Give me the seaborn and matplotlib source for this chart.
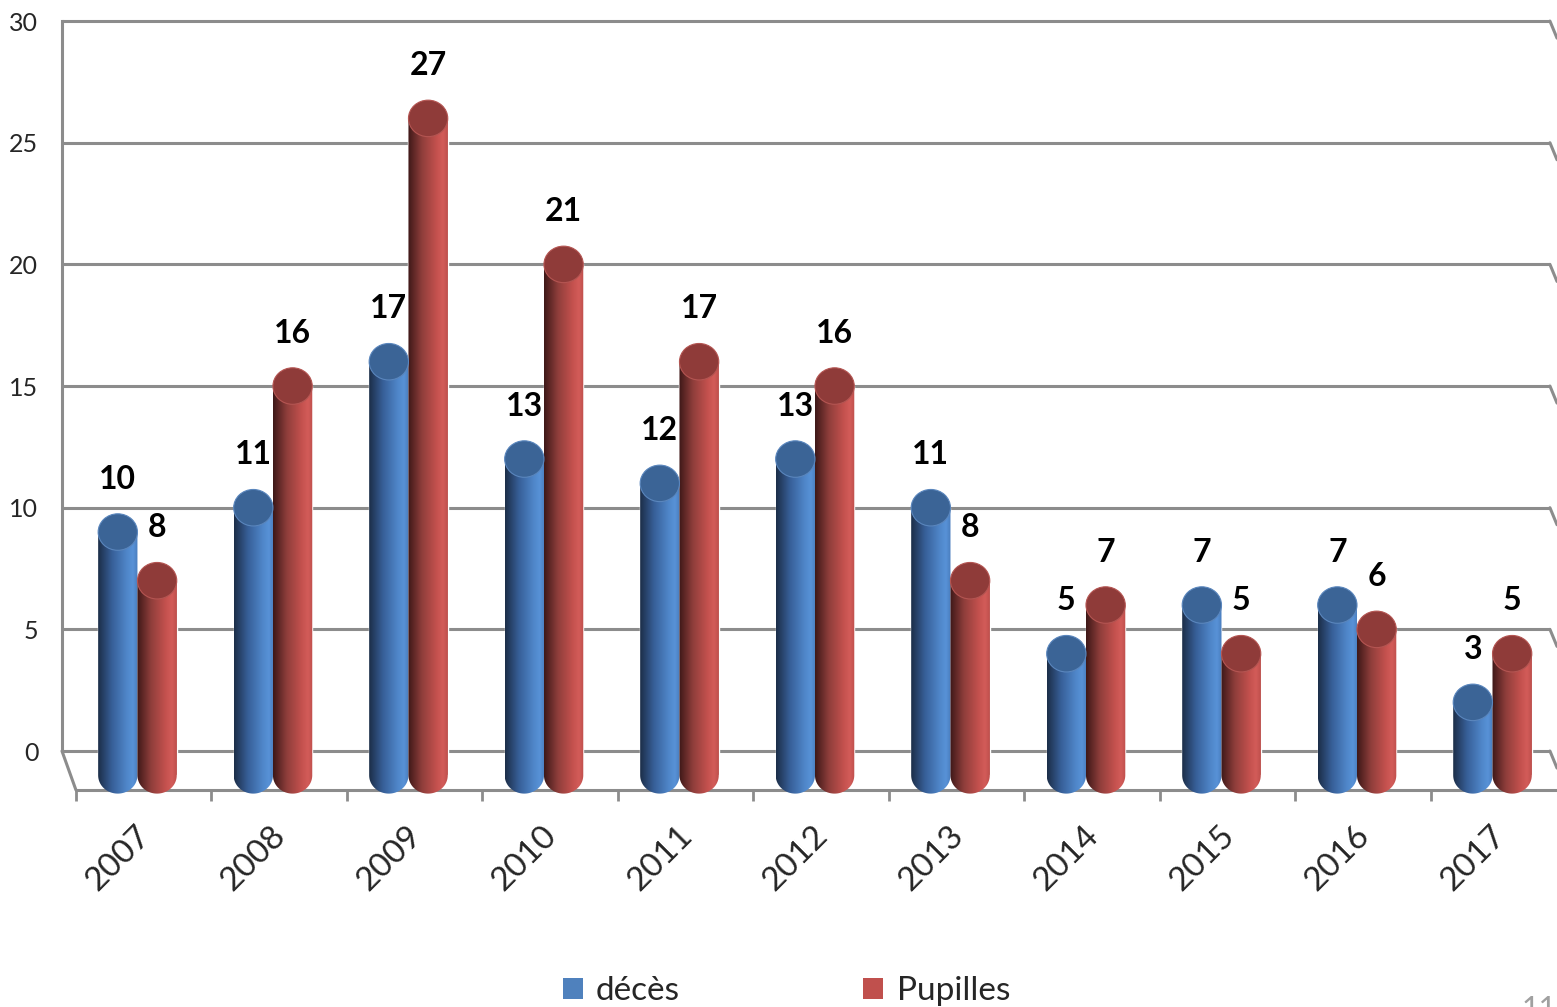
import numpy as np
import pandas as pd
import matplotlib
matplotlib.use("Agg")
import matplotlib.pyplot as plt
import seaborn as sns
from matplotlib.patches import Polygon, Ellipse, Patch
from matplotlib.colors import LinearSegmentedColormap
from matplotlib.transforms import ScaledTranslation

# donnees
annees = ['2007', '2008', '2009', '2010', '2011', '2012', '2013', '2014', '2015', '2016', '2017']
deces = [10, 11, 17, 13, 12, 13, 11, 5, 7, 7, 3]
pupilles = [8, 16, 27, 21, 17, 16, 8, 7, 5, 6, 5]
series = ['décès', 'Pupilles']
yticks = [0, 5, 10, 15, 20, 25, 30]

df = pd.DataFrame({
    'annee': annees * 2,
    'valeur': deces + pupilles,
    'serie': [series[0]] * len(annees) + [series[1]] * len(annees),
})

sns.set_style("white")
plt.rcParams['font.family'] = ['Lato', 'DejaVu Sans']

fig = plt.figure(figsize=(15.57, 10.07), dpi=100)
ax = fig.add_axes([0.0398, 0.2107, 0.9602, 0.7732])

couleurs = ['#4f81bd', '#c0504d']
sns.barplot(data=df, x='annee', y='valeur', hue='serie', palette=couleurs,
            width=0.58, errorbar=None, bottom=-1, ax=ax, zorder=2, legend=False)

# degrades "cylindre"
cm_bleu = LinearSegmentedColormap.from_list('b', [(0, '#1c2e48'), (0.35, '#375f98'),
                                                  (0.72, '#4f86c9'), (0.88, '#5892d7'),
                                                  (1, '#4a7dbd')])
cm_rouge = LinearSegmentedColormap.from_list('r', [(0, '#3e1818'), (0.35, '#8f3e3b'),
                                                   (0.72, '#c4514e'), (0.88, '#d35c59'),
                                                   (1, '#bf4f4c')])
dessus = ['#3b6496', '#8f3b39']
bord = ['#5a86bd', '#b45552']
grad = np.linspace(0, 1, 200).reshape(1, -1)
eh = 0.75

for cont, cmap, ctop, cbord in zip(ax.containers, [cm_bleu, cm_rouge], dessus, bord):
    for bar in cont:
        x0 = bar.get_x()
        w = bar.get_width()
        y0 = bar.get_y()
        h = bar.get_height()
        top = y0 + h
        cx = x0 + w / 2
        theta = np.linspace(np.pi, 2 * np.pi, 40)
        arc = list(zip(cx + (w / 2) * np.cos(theta), y0 + eh * np.sin(theta)))
        verts = [(x0, top)] + arc + [(x0 + w, top)]
        clip = Polygon(verts, closed=True, transform=ax.transData,
                       facecolor='none', edgecolor='none')
        im = ax.imshow(grad, cmap=cmap, extent=[x0, x0 + w, y0 - eh, top],
                       aspect='auto', interpolation='bilinear', zorder=3)
        im.set_clip_path(clip)
        ax.add_patch(Ellipse((cx, top), w, 2 * eh, facecolor=ctop,
                             edgecolor=cbord, lw=0.8, zorder=4))
        ax.annotate(str(int(round(h))), (cx, top), xytext=(0, 38),
                    textcoords='offset points', ha='center', va='center',
                    fontsize=23, fontweight='bold', color='black', zorder=5)

xl, xr = -0.557, 10.476
xfront = -0.454
xback_r = 10.424
gris = '#8c8c8c'

# murs et sol
ax.hlines(yticks, xl, xback_r, color=gris, lw=2.2, zorder=1)
for yv in yticks:
    ax.plot([xback_r, xr], [yv, yv - 0.7], color=gris, lw=2.2, zorder=1, clip_on=False)
ax.plot([xl, xfront], [0, -1.6], color=gris, lw=2.2, zorder=1, clip_on=False)
ax.plot([xfront, xr], [-1.6, -1.6], color=gris, lw=2.2, zorder=1, clip_on=False)
ax.vlines([i + xfront for i in range(len(annees))], -2.05, -1.6, color=gris,
          lw=2, clip_on=False)

ax.set_xlim(xl, xr)
ax.set_ylim(-1.8, 30.2)

for s in ['top', 'right', 'bottom']:
    ax.spines[s].set_visible(False)
ax.spines['left'].set_bounds(0, 30)
ax.spines['left'].set_color(gris)
ax.spines['left'].set_linewidth(2.2)

ax.set_yticks(yticks)
ax.set_yticklabels([str(v) for v in yticks])
ax.tick_params(axis='y', length=6, width=2, color=gris, pad=11, labelsize=18)

ax.set_xticks(range(len(annees)))
ax.set_xticklabels(annees, rotation=45, ha='right', va='center',
                   rotation_mode='anchor', fontsize=24)
ax.tick_params(axis='x', length=0, pad=26)
for lbl in ax.get_xticklabels():
    lbl.set_transform(lbl.get_transform() + ScaledTranslation(0.08, 0, fig.dpi_scale_trans))

ax.set_xlabel('')
ax.set_ylabel('')

handles = [Patch(facecolor=c, edgecolor='none') for c in couleurs]
fig.legend(handles, series, loc='center', bbox_to_anchor=(0.505, 0.016), ncol=2,
           frameon=False, fontsize=24, handlelength=0.6, handleheight=0.6,
           handletextpad=0.4, columnspacing=5.5)

fig.text(0.977, 0.012, '11', color='#a0a0a0', fontsize=22, ha='left', va='top')

fig.savefig('out.png', dpi=100)
